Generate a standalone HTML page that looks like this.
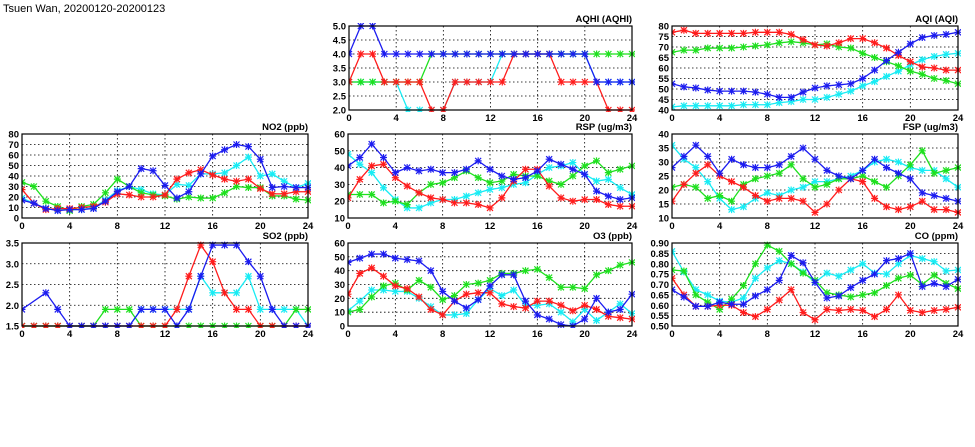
<!DOCTYPE html>
<html><head><meta charset="utf-8">
<style>
html,body{margin:0;padding:0;background:#fff;}
svg{display:block;}
text{font-family:"Liberation Sans",sans-serif;font-weight:bold;fill:#000;}
</style></head>
<body>
<svg id="s" width="975" height="447" viewBox="0 0 975 447" xmlns="http://www.w3.org/2000/svg">
<text x="3" y="12" style="font-size:11px;font-weight:normal">Tsuen Wan, 20200120-20200123</text>
</svg>
<script>
const C={r:"#ff1c1c",g:"#1ee01e",c:"#18ecf4",b:"#1c1cf0"};
const P=[
{t:"AQHI (AQHI)",x:349,y:26,w:283,h:84,min:2,max:5,step:0.5,dec:1,s:{
c:[3,3,3,3,3,2,2,2,2,3,3,3,3,4,4,4,4,4,4,4,4,3,3,3,3],
g:[3,3,3,3,3,3,3,4,4,4,4,4,4,4,4,4,4,4,4,4,4,4,4,4,4],
r:[3,4,4,3,3,3,3,2,2,3,3,3,3,3,4,4,4,4,3,3,3,3,2,2,2],
b:[4,5,5,4,4,4,4,4,4,4,4,4,4,4,4,4,4,4,4,4,4,3,3,3,3]}},
{t:"AQI (AQI)",x:672,y:26,w:286,h:84,min:40,max:80,step:5,dec:0,s:{
c:[41.5,42,42,42,42,42,42.5,42.5,42.5,43.5,44,45,45,46,47.5,49,51.5,53.5,56,58.5,61.5,64,65.5,66.5,67],
g:[67.5,68.5,68.5,69.5,69.5,69.5,70,70.5,71,72,72.5,72,71,71.5,70,69.5,67,65,63,61,58.5,57,55,54,52.5],
r:[77,78,76.5,76.5,76.5,76.5,76.5,77,77,77,76,73.5,71,70.5,72,74,74,72,69.5,66,63,60.5,60,59,59],
b:[52.5,51,50.5,49.5,49,49,49,48.5,47.5,46,46,48.5,50.5,51.5,52,52.5,55,59,63.5,67.5,71.5,74.5,75.5,76,77]}},
{t:"NO2 (ppb)",x:22,y:134,w:286,h:84,min:0,max:80,step:10,dec:0,s:{
c:[19,14,9,8,8,8,10,17,26,30,27,23,22,32,31,42,42,43,50,58,40,42,35,29,33],
g:[34,30,16,11,7,11,13,24,37,30,24,22,21,18,20,19,19,24,30,29,29,21,21,18,17],
r:[27,14,8,9,9,10,11,15,23,22,20,20,22,37,43,46,41,37,35,37,28,23,23,25,25],
b:[17,14,9,7,8,8,9,16,25,30,47,45,31,19,25,42,59,65,70,68,56,29,30,29,29]}},
{t:"RSP (ug/m3)",x:348,y:134,w:284,h:84,min:10,max:60,step:10,dec:0,s:{
c:[48,42,37,28,21,16,16,19,21,21,23,25,27,28,30,31,36,40,41,43,36,32,33,28,24],
g:[24,24,24,19,20,18,25,30,31,34,38,34,31,32,36,35,35,32,30,35,41,44,37,39,41],
r:[22,33,41,42,34,29,25,22,21,19,19,18,16,22,32,39,39,29,22,20,21,21,18,17,17],
b:[41,46,54,46,37,40,38,39,37,37,39,44,39,35,33,34,38,45,42,39,36,26,23,21,22]}},
{t:"FSP (ug/m3)",x:672,y:134,w:286,h:84,min:10,max:40,step:5,dec:0,s:{
c:[36,31,28,23,17,13,14,17,19,18,20,21,23,23,24,25,27,30,31,30,28,27,27,24,21],
g:[21,22,21,17,18,16,22,24,25,26,29,24,21,22,24,24,25,23,21,25,29,34,26,27,28],
r:[16,22,26,29,25,23,21,18,16,17,17,16,12,15,20,24,23,17,14,13,14,16,13,13,12],
b:[28,32,36,32,26,31,29,28,28,29,32,35,31,27,25,24,27,31,28,26,24,19,18,17,16]}},
{t:"SO2 (ppb)",x:22,y:243,w:286,h:83,min:1.5,max:3.5,step:0.5,dec:1,s:{
c:[1.5,1.5,1.5,1.5,1.5,1.5,1.5,1.5,1.5,1.5,1.9,1.9,1.9,1.9,1.9,2.7,2.3,2.3,2.3,2.7,1.9,1.9,1.9,1.9,1.5],
g:[1.5,1.5,1.5,1.5,1.5,1.5,1.5,1.9,1.9,1.9,1.5,1.5,1.5,1.5,1.5,1.5,1.5,1.5,1.5,1.5,1.5,1.5,1.5,1.9,1.9],
r:[1.5,1.5,1.5,1.5,1.5,1.5,1.5,1.5,1.5,1.5,1.5,1.5,1.5,1.9,2.7,3.45,3.05,2.3,1.9,1.9,1.5,1.5,1.5,1.5,1.5],
b:[1.9,null,2.3,1.9,1.5,1.5,1.5,1.5,1.5,1.5,1.9,1.9,1.9,1.5,1.9,2.7,3.45,3.45,3.45,3.05,2.7,1.9,1.5,1.5,1.5]}},
{t:"O3 (ppb)",x:348,y:243,w:284,h:83,min:0,max:60,step:10,dec:0,s:{
c:[11,18,26,26,25,25,20,14,8,8,9,19,27,22,26,15,15,16,10,3,12,4,10,16,9],
g:[10,12,21,29,31,26,33,28,19,22,30,31,33,38,38,40,41,35,28,28,27,37,40,44,46],
r:[23,38,42,36,29,27,21,12,8,18,23,24,24,16,14,13,18,18,15,11,15,12,7,6,5],
b:[46,49,52,52,49,48,47,40,25,18,13,19,29,37,37,18,8,5,1,0,5,20,10,12,23]}},
{t:"CO (ppm)",x:672,y:243,w:286,h:83,min:0.5,max:0.9,step:0.05,dec:2,s:{
c:[.86,.76,.675,.65,.62,.615,.635,.73,.78,.815,.80,.76,.71,.755,.74,.77,.80,.755,.75,.80,.84,.825,.81,.765,.77],
g:[.77,.765,.65,.615,.58,.63,.695,.80,.89,.86,.80,.755,.72,.66,.65,.64,.65,.66,.695,.73,.745,.70,.745,.705,.68],
r:[.73,.65,.595,.595,.60,.60,.565,.545,.58,.625,.675,.565,.53,.58,.575,.58,.575,.545,.58,.65,.575,.565,.575,.58,.59],
b:[.675,.64,.595,.595,.615,.605,.605,.645,.675,.72,.84,.805,.71,.635,.645,.685,.72,.75,.815,.825,.85,.69,.705,.69,.725]}}
];
let o="";
for(const p of P){
 const X=i=>p.x+i*p.w/24, Y=v=>p.y+p.h-(v-p.min)/(p.max-p.min)*p.h;
 o+=`<defs><clipPath id="c${p.x}_${p.y}"><rect x="${p.x}" y="${p.y-3}" width="${p.w+3}" height="${p.h+5}"/></clipPath></defs>`;
 const n=Math.round((p.max-p.min)/p.step);
 for(let k=0;k<=n;k++){const v=p.min+k*p.step,y=Y(v);
  if(k>0&&k<n)o+=`<line x1="${p.x}" x2="${p.x+p.w}" y1="${y}" y2="${y}" stroke="#000" stroke-width="0.8" stroke-dasharray="1.5,2.5"/>`;
  o+=`<text x="${p.x-3}" y="${y+3.5}" text-anchor="end" style="font-size:9.5px">${v.toFixed(p.dec)}</text>`;}
 for(let h=0;h<=24;h+=4){const x=X(h);
  if(h>0&&h<24)o+=`<line x1="${x}" x2="${x}" y1="${p.y}" y2="${p.y+p.h}" stroke="#000" stroke-width="0.8" stroke-dasharray="1.5,2.5"/>`;
  o+=`<text x="${x}" y="${p.y+p.h+11}" text-anchor="middle" style="font-size:9.5px">${h}</text>`;}
 for(const k of ["c","g","r","b"]){const d=p.s[k];let pts=[];
  d.forEach((v,i)=>{if(v!==null)pts.push([X(i),Y(v)]);});
  o+=`<g clip-path="url(#c${p.x}_${p.y})"><polyline fill="none" stroke="${C[k]}" stroke-width="1.3" points="${pts.map(q=>q.join(',')).join(' ')}"/>`;
  for(const [x,y] of pts)o+=`<path d="M${x-3},${y-3}L${x+3},${y+3}M${x-3},${y+3}L${x+3},${y-3}M${x-3.5},${y}H${x+3.5}M${x},${y-3.5}V${y+3.5}" stroke="${C[k]}" stroke-width="1.2"/>`;
  o+=`</g>`;}
 o+=`<rect x="${p.x}" y="${p.y}" width="${p.w}" height="${p.h}" fill="none" stroke="#000" stroke-width="1.2"/>`;
 o+=`<text x="${p.x+p.w}" y="${p.y-4}" text-anchor="end" style="font-size:9.5px">${p.t}</text>`;
}
document.getElementById("s").insertAdjacentHTML("beforeend",o);
</script>
</body></html>
